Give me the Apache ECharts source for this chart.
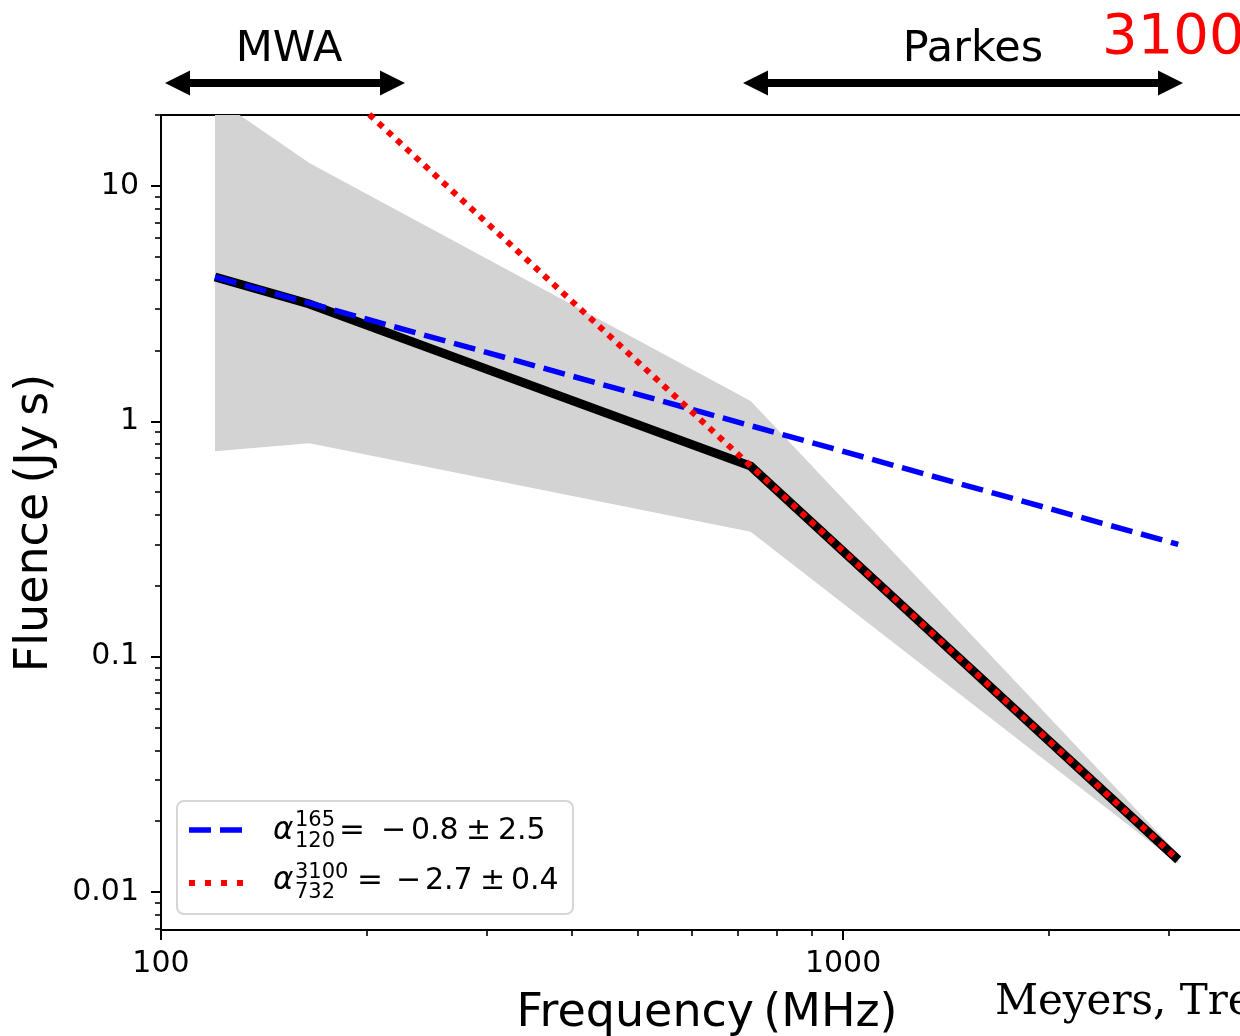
<!DOCTYPE html>
<html>
<head>
<meta charset="utf-8">
<script src="https://cdn.jsdelivr.net/npm/echarts@6/dist/echarts.min.js"></script>
<style>
  html, body { margin: 0; padding: 0; background: #fff; }
  #chart { width: 1240px; height: 1036px; }
</style>
</head>
<body>
<div id="chart"></div>
<script>
// 数据：通量 vs 频率
const fluFreq = [120, 165, 732, 3100]
const fluence = [4.1, 3.15, 0.645, 0.0137]
// 灰色误差带（上下边界）
const bandUpper = [23.6, 12.5, 1.22, 0.0145]
const bandLower = [0.746, 0.807, 0.339, 0.0132]
// 两段幂律拟合
const lowFitFreq = [120, 3100]
const lowFit = [4.1, 0.30]
const highFitFreq = [202, 3100]
const highFit = [20.1, 0.0137]
// 刻度
const xMajor = [100, 1000]
const xMinor = [200, 300, 400, 500, 600, 700, 800, 900, 2000, 3000]
const yMajor = [0.01, 0.1, 1, 10]
const yMinor = [0.007, 0.008, 0.009,
  0.02, 0.03, 0.04, 0.05, 0.06, 0.07, 0.08, 0.09,
  0.2, 0.3, 0.4, 0.5, 0.6, 0.7, 0.8, 0.9,
  2, 3, 4, 5, 6, 7, 8, 9, 20]

const X_MIN = 100, X_MAX = 3819
const Y_MIN = 0.0069, Y_MAX = 20
const FONT = 'DejaVu Sans'

const pairs = (xs, ys) => xs.map((x, i) => [x, ys[i]])
const fmt = v => String(+(+v).toPrecision(3))

const chart = echarts.init(document.getElementById('chart'))

const baseX = { type: 'log', min: X_MIN, max: X_MAX, gridIndex: 0, splitLine: { show: false } }
const baseY = { type: 'log', min: Y_MIN, max: Y_MAX, gridIndex: 0, splitLine: { show: false } }

// 图例里的文字片段
function txt(x, y, s, size, extra) {
  return {
    type: 'text', x, y, z: 101,
    style: Object.assign({ text: s, fontSize: size, fontFamily: FONT, fill: '#000', verticalAlign: 'middle' }, extra || {})
  }
}

// 双向箭头
function arrow(x1, x2, y) {
  const h = 12.5, head = 25, w = 8
  return [
    { type: 'rect', z: 100, shape: { x: x1 + head - 1, y: y - w / 2, width: x2 - x1 - 2 * head + 2, height: w }, style: { fill: '#000' } },
    { type: 'polygon', z: 100, shape: { points: [[x1, y], [x1 + head, y - h], [x1 + head, y + h]] }, style: { fill: '#000' } },
    { type: 'polygon', z: 100, shape: { points: [[x2, y], [x2 - head, y - h], [x2 - head, y + h]] }, style: { fill: '#000' } }
  ]
}

const option = {
  animation: false,
  backgroundColor: '#fff',
  grid: { left: 161, top: 115, right: 0, bottom: 106 },
  xAxis: [
    Object.assign({}, baseX, {
      position: 'bottom',
      axisLine: { show: true, lineStyle: { color: '#000', width: 2 } },
      axisTick: { show: true, customValues: xMajor, length: 10, lineStyle: { color: '#000', width: 2 } },
      axisLabel: { customValues: xMajor, formatter: fmt, fontSize: 30, fontFamily: FONT, color: '#000', margin: 19 }
    }),
    Object.assign({}, baseX, {
      position: 'bottom',
      axisLine: { show: false },
      axisTick: { show: true, customValues: xMinor, length: 6, lineStyle: { color: '#000', width: 1.6 } },
      axisLabel: { show: false }
    }),
    Object.assign({}, baseX, {
      position: 'top',
      axisLine: { show: true, lineStyle: { color: '#000', width: 2 } },
      axisTick: { show: false },
      axisLabel: { show: false }
    })
  ],
  yAxis: [
    Object.assign({}, baseY, {
      position: 'left',
      axisLine: { show: true, lineStyle: { color: '#000', width: 2 } },
      axisTick: { show: true, customValues: yMajor, length: 10, lineStyle: { color: '#000', width: 2 } },
      axisLabel: { customValues: yMajor, formatter: fmt, fontSize: 30, fontFamily: FONT, color: '#000', margin: 22 }
    }),
    Object.assign({}, baseY, {
      position: 'left',
      axisLine: { show: false },
      axisTick: { show: true, customValues: yMinor, length: 6, lineStyle: { color: '#000', width: 1.6 } },
      axisLabel: { show: false }
    })
  ],
  series: [
    {
      // 灰色带：上边界 + 反向下边界 组成多边形
      type: 'custom',
      xAxisIndex: 0, yAxisIndex: 0,
      clip: true,
      z: 1,
      data: [[fluFreq[0], fluence[0]]],
      renderItem: function (params, api) {
        const pts = pairs(fluFreq, bandUpper).concat(pairs(fluFreq, bandLower).reverse())
        return {
          type: 'polygon',
          shape: { points: pts.map(p => api.coord(p)) },
          style: { fill: '#d3d3d3' }
        }
      }
    },
    {
      type: 'line', z: 3,
      data: pairs(fluFreq, fluence),
      symbol: 'none',
      lineStyle: { color: '#000', width: 9, cap: 'butt', join: 'miter' }
    },
    {
      type: 'line', z: 4,
      data: pairs(lowFitFreq, lowFit),
      symbol: 'none',
      lineStyle: { color: '#0000ff', width: 5.5, type: [22, 9], cap: 'butt' }
    },
    {
      type: 'line', z: 5,
      data: pairs(highFitFreq, highFit),
      symbol: 'none',
      clip: true,
      lineStyle: { color: '#ff0000', width: 6, type: [6, 6.5], cap: 'butt' }
    }
  ],
  graphic: [
    // 顶部标注
    txt(289, 50, 'MWA', 43, { align: 'center' }),
    txt(973, 50, 'Parkes', 43, { align: 'center' }),
    txt(1102, 38, '3100', 56, { fill: '#ff0000' }),
    ...arrow(165, 405, 83),
    ...arrow(743, 1183, 83),
    // 坐标轴标题
    {
      type: 'text', x: 35, y: 523, rotation: Math.PI / 2, z: 100,
      style: { text: 'Fluence\u2009(Jy\u2009s)', fontSize: 46, fontFamily: FONT, fill: '#000', align: 'center', verticalAlign: 'middle' }
    },
    txt(707, 1014, 'Frequency\u2009(MHz)', 46, { align: 'center' }),
    txt(995, 1003, 'Meyers, Tremblay', 42, { fontFamily: 'DejaVu Serif' }),
    // 图例
    {
      type: 'rect', z: 100,
      shape: { x: 177, y: 801, width: 396, height: 113, r: 7 },
      style: { fill: 'rgba(255,255,255,0.85)', stroke: '#d6d6d6', lineWidth: 2 }
    },
    {
      type: 'line', z: 101,
      shape: { x1: 189, y1: 830, x2: 245, y2: 830 },
      style: { stroke: '#0000ff', lineWidth: 5.5, lineDash: [22, 9] }
    },
    {
      type: 'line', z: 101,
      shape: { x1: 189, y1: 883, x2: 245, y2: 883 },
      style: { stroke: '#ff0000', lineWidth: 6, lineDash: [6, 10] }
    },
    txt(273, 831, 'α', 31, { fontStyle: 'italic' }),
    txt(295, 821, '165', 21),
    txt(295, 842, '120', 21),
    txt(339, 831, '=', 31),
    txt(381, 831, '−', 30),
    txt(411, 831, '0.8', 30),
    txt(466, 831, '±', 30),
    txt(498, 831, '2.5', 30),
    txt(273, 881, 'α', 31, { fontStyle: 'italic' }),
    txt(295, 873, '3100', 21),
    txt(295, 893, '732', 21),
    txt(357, 881, '=', 31),
    txt(396, 881, '−', 30),
    txt(425, 881, '2.7', 30),
    txt(480, 881, '±', 30),
    txt(511, 881, '0.4', 30)
  ]
}

chart.setOption(option)
</script>
</body>
</html>
